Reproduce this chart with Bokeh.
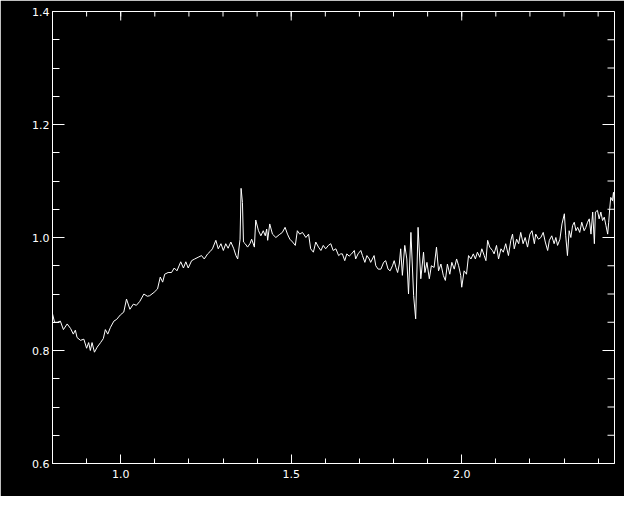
import math
from bokeh.plotting import figure
from bokeh.models import LinearAxis, FixedTicker, NumeralTickFormatter, Range1d
from bokeh.embed import file_html
from bokeh.resources import INLINE

wavelength = [
    0.800, 0.806, 0.814, 0.823, 0.832, 0.843, 0.853, 0.861, 0.867, 0.872,
    0.882, 0.892, 0.900, 0.906, 0.911, 0.916, 0.923, 0.931, 0.941, 0.949,
    0.955, 0.962, 0.970, 0.980, 0.988, 0.999, 1.009, 1.017, 1.027, 1.037,
    1.046, 1.056, 1.068, 1.078, 1.085,
    1.098, 1.108, 1.116, 1.123, 1.129, 1.139, 1.149, 1.157, 1.165, 1.176,
    1.184, 1.191, 1.198, 1.208, 1.217, 1.227, 1.237, 1.245, 1.255, 1.262,
    1.269, 1.279, 1.286, 1.294, 1.301, 1.308, 1.315, 1.323, 1.331, 1.338,
    1.343, 1.350, 1.353, 1.357, 1.360, 1.365, 1.372, 1.379, 1.384, 1.392,
    1.396, 1.404, 1.411, 1.418, 1.424, 1.428, 1.431, 1.437, 1.445, 1.455,
    1.465, 1.474, 1.482, 1.489, 1.496, 1.504, 1.512, 1.518, 1.525, 1.533,
    1.543, 1.551, 1.557, 1.565, 1.572, 1.580, 1.587, 1.594, 1.601, 1.609,
    1.616, 1.623, 1.631, 1.639, 1.645,
    1.650, 1.657, 1.663, 1.670, 1.677, 1.685, 1.689, 1.696, 1.704, 1.709,
    1.716, 1.722, 1.729, 1.733, 1.743, 1.748, 1.755, 1.763, 1.771, 1.777,
    1.784, 1.790, 1.797, 1.802, 1.807, 1.812, 1.817, 1.821, 1.826, 1.833,
    1.839, 1.844, 1.851, 1.859, 1.865, 1.872, 1.880, 1.888, 1.892, 1.898,
    1.905, 1.911,
    1.919, 1.926, 1.932, 1.939, 1.946, 1.952, 1.958, 1.965, 1.971, 1.978,
    1.985, 1.991, 1.997, 2.000, 2.007, 2.014, 2.020, 2.027, 2.034, 2.040,
    2.046, 2.053, 2.059, 2.066, 2.071, 2.076, 2.082, 2.090, 2.095, 2.102,
    2.108, 2.115, 2.122, 2.129, 2.137, 2.144, 2.149, 2.154, 2.161, 2.167,
    2.173, 2.180, 2.186, 2.193,
    2.200, 2.206, 2.213, 2.217, 2.225, 2.232, 2.239, 2.245, 2.252, 2.257,
    2.264, 2.271, 2.276, 2.281, 2.288, 2.294, 2.301, 2.305, 2.310, 2.315,
    2.320, 2.325, 2.330, 2.335, 2.340, 2.346, 2.352, 2.359, 2.364, 2.369,
    2.374, 2.379, 2.384, 2.389, 2.392, 2.398, 2.403, 2.408, 2.413, 2.418,
    2.423, 2.428, 2.431, 2.434, 2.437, 2.442, 2.445, 2.448,
]

flux = [
    0.865, 0.850, 0.850, 0.852, 0.837, 0.847, 0.839, 0.829, 0.836, 0.823,
    0.818, 0.820, 0.804, 0.814, 0.800, 0.814, 0.797, 0.806, 0.814, 0.821,
    0.837, 0.829, 0.841, 0.852, 0.855, 0.863, 0.868, 0.891, 0.873, 0.882,
    0.880, 0.887, 0.900, 0.896, 0.897,
    0.903, 0.909, 0.930, 0.921, 0.935, 0.938, 0.938, 0.946, 0.941, 0.957,
    0.946, 0.957, 0.946, 0.959, 0.962, 0.965, 0.968, 0.962, 0.971, 0.975,
    0.980, 0.995, 0.980, 0.989, 0.977, 0.989, 0.981, 0.992, 0.981, 0.968,
    0.962, 0.997, 1.087, 1.062, 0.992, 0.989, 0.983, 0.989, 0.997, 0.983,
    1.031, 1.012, 1.003, 1.012, 1.003, 1.015, 0.995, 1.024, 1.006, 1.000,
    1.005, 1.009, 1.018, 1.006, 0.997, 0.992, 0.986, 1.012, 1.006, 1.009,
    1.000, 1.006, 0.980, 0.974, 0.992, 0.983, 0.977, 0.986, 0.980, 0.986,
    0.989, 0.977, 0.980, 0.968, 0.971,
    0.971, 0.959, 0.971, 0.967, 0.971, 0.977, 0.962, 0.971, 0.977, 0.968,
    0.956, 0.968, 0.962, 0.956, 0.968, 0.950, 0.944, 0.944, 0.956, 0.959,
    0.944, 0.941, 0.950, 0.959, 0.947, 0.938, 0.953, 0.980, 0.933, 0.986,
    0.962, 0.900, 1.009, 0.897, 0.856, 1.018, 0.927, 0.974, 0.938, 0.956,
    0.927, 0.950,
    0.947, 0.983, 0.941, 0.953, 0.933, 0.924, 0.953, 0.935, 0.956, 0.944,
    0.962, 0.950, 0.933, 0.912, 0.941, 0.935, 0.968, 0.962, 0.971, 0.962,
    0.974, 0.965, 0.980, 0.968, 0.959, 0.995, 0.983, 0.977, 0.971, 0.986,
    0.962, 0.980, 0.974, 0.989, 0.968, 0.995, 1.006, 0.980, 0.997, 0.989,
    1.009, 0.989, 1.000, 0.983,
    1.006, 1.012, 0.989, 1.006, 0.997, 1.000, 1.009, 0.992, 0.977, 0.995,
    1.003, 0.989, 1.000, 0.986, 0.997, 1.024, 1.042, 1.003, 0.968, 1.012,
    1.000, 1.021, 1.027, 1.012, 1.018, 1.009, 1.027, 1.012, 1.018, 1.027,
    1.033, 1.006, 1.045, 0.989, 1.045, 1.048, 1.033, 1.045, 1.030, 1.036,
    1.021, 1.006, 1.027, 1.051, 1.071, 1.065, 1.080, 1.057,
]

x_start, x_end = 0.8, 2.448
y_start, y_end = 0.6, 1.4
x_major_ticks = [1.0, 1.5, 2.0]
x_minor_ticks = [0.8, 0.9, 1.0, 1.1, 1.2, 1.3, 1.4, 1.5, 1.6, 1.7, 1.8, 1.9, 2.0, 2.1, 2.2, 2.3, 2.4]
y_major_ticks = [0.6, 0.8, 1.0, 1.2, 1.4]
y_minor_ticks = [0.6, 0.65, 0.7, 0.75, 0.8, 0.85, 0.9, 0.95, 1.0, 1.05, 1.1, 1.15, 1.2, 1.25, 1.3, 1.35, 1.4]

X_MAJ_LEN, X_MIN_LEN = 9, 5
Y_MAJ_LEN, Y_MIN_LEN = 12, 7

p = figure(width=624, height=496, output_backend="svg", toolbar_location=None,
           x_range=Range1d(x_start, x_end), y_range=Range1d(y_start, y_end),
           x_axis_location=None, y_axis_location=None,
           min_border_left=52, min_border_right=10, min_border_top=11, min_border_bottom=33)
p.background_fill_color = "black"
p.border_fill_color = "black"
p.outline_line_color = "white"
p.outline_line_width = 1
p.grid.visible = False

p.line(wavelength, flux, line_color="white", line_width=1)

def style(ax, xaxis):
    ax.axis_line_color = "white"
    ax.axis_line_width = 1
    ax.major_tick_line_color = "white"
    ax.minor_tick_line_color = "white"
    ax.major_tick_out = 0
    ax.minor_tick_out = 0
    if xaxis:
        ax.ticker = FixedTicker(ticks=x_major_ticks, minor_ticks=x_minor_ticks)
        ax.major_tick_in = X_MAJ_LEN
        ax.minor_tick_in = X_MIN_LEN
        ax.major_label_standoff = 6
    else:
        ax.ticker = FixedTicker(ticks=y_major_ticks, minor_ticks=y_minor_ticks)
        ax.major_tick_in = Y_MAJ_LEN
        ax.minor_tick_in = Y_MIN_LEN
        ax.major_label_standoff = 3
    ax.formatter = NumeralTickFormatter(format="0.0")
    ax.major_label_text_color = "white"
    ax.major_label_text_font = "DejaVu Sans"
    ax.major_label_text_font_size = "11px"

left = LinearAxis(); style(left, False); p.add_layout(left, "left")
below = LinearAxis(); style(below, True); p.add_layout(below, "below")

# mirrored ticks on the right and top edges (IDL style box)
p.ray(x=[x_end] * len(y_minor_ticks), y=y_minor_ticks, length=Y_MIN_LEN,
      length_units="screen", angle=math.pi, line_color="white", line_width=1)
p.ray(x=[x_end] * len(y_major_ticks), y=y_major_ticks, length=Y_MAJ_LEN,
      length_units="screen", angle=math.pi, line_color="white", line_width=1)
p.ray(x=x_minor_ticks, y=[y_end] * len(x_minor_ticks), length=X_MIN_LEN,
      length_units="screen", angle=-math.pi / 2, line_color="white", line_width=1)
p.ray(x=x_major_ticks, y=[y_end] * len(x_major_ticks), length=X_MAJ_LEN,
      length_units="screen", angle=-math.pi / 2, line_color="white", line_width=1)

open("out.html", "w").write(file_html(p, INLINE))
